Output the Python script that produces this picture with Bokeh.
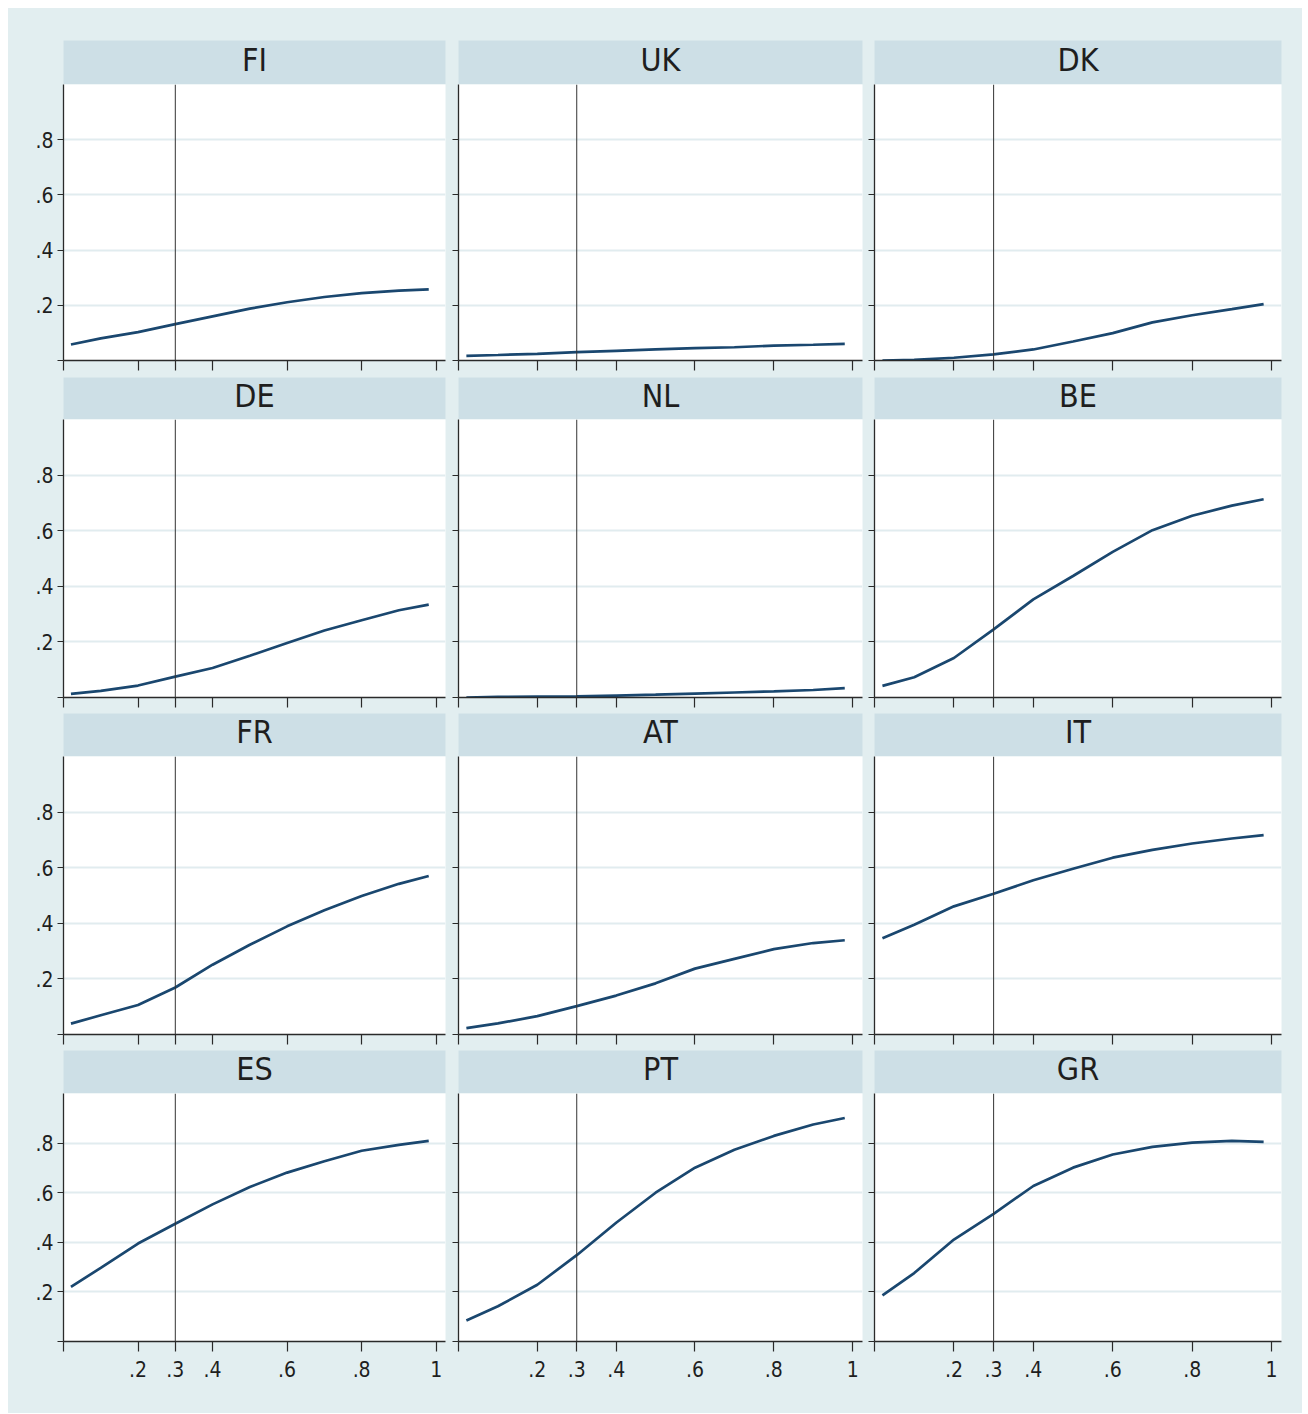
from bokeh.plotting import figure
from bokeh.models import Span, FixedTicker, CustomJSTickFormatter, Label, Range1d, Spacer
from bokeh.layouts import column, row
from bokeh.embed import file_html
from bokeh.resources import INLINE

# ---------------- data ----------------
countries = ["FI", "UK", "DK", "DE", "NL", "BE", "FR", "AT", "IT", "ES", "PT", "GR"]
x_pts = [0.02, 0.1, 0.2, 0.3, 0.4, 0.5, 0.6, 0.7, 0.8, 0.9, 0.98]

FI = [0.058, 0.080, 0.103, 0.132, 0.160, 0.188, 0.211, 0.230, 0.244, 0.253, 0.258]
UK = [0.017, 0.020, 0.024, 0.030, 0.035, 0.040, 0.045, 0.048, 0.054, 0.057, 0.060]
DK = [0.000, 0.002, 0.010, 0.022, 0.040, 0.069, 0.099, 0.138, 0.164, 0.186, 0.204]
DE = [0.013, 0.024, 0.043, 0.075, 0.106, 0.150, 0.196, 0.241, 0.278, 0.314, 0.334]
NL = [0.000, 0.002, 0.003, 0.004, 0.007, 0.010, 0.014, 0.018, 0.022, 0.027, 0.034]
BE = [0.042, 0.073, 0.142, 0.245, 0.353, 0.437, 0.524, 0.602, 0.654, 0.690, 0.713]
FR = [0.039, 0.069, 0.106, 0.169, 0.251, 0.323, 0.389, 0.447, 0.498, 0.542, 0.570]
AT = [0.023, 0.040, 0.066, 0.102, 0.140, 0.184, 0.237, 0.272, 0.307, 0.329, 0.339]
IT = [0.346, 0.395, 0.461, 0.506, 0.555, 0.596, 0.636, 0.664, 0.687, 0.705, 0.717]
ES = [0.220, 0.297, 0.395, 0.475, 0.553, 0.623, 0.681, 0.727, 0.769, 0.793, 0.809]
PT = [0.085, 0.142, 0.229, 0.348, 0.479, 0.600, 0.701, 0.773, 0.829, 0.875, 0.901]
GR = [0.186, 0.276, 0.411, 0.515, 0.627, 0.701, 0.754, 0.785, 0.802, 0.809, 0.805]

series = {"FI": FI, "UK": UK, "DK": DK, "DE": DE, "NL": NL, "BE": BE,
          "FR": FR, "AT": AT, "IT": IT, "ES": ES, "PT": PT, "GR": GR}

y_ticks = [0, 0.2, 0.4, 0.6, 0.8]
y_grid = [0.2, 0.4, 0.6, 0.8]
x_ticks = [0, 0.2, 0.3, 0.4, 0.6, 0.8, 1.0]
cutoff = 0.3

# ---------------- style ----------------
BG = "#e2eef0"
STRIP = "#cddfe6"
LINE = "#1a476f"
AXIS = "#2a2a2a"
GRID = "#e1ecef"
FONT = "DejaVu Sans Condensed, Liberation Sans, sans-serif"

# column geometry: (fig width, left border, right border)
cols = [(443, 55, 6), (416, 7, 5), (435, 7, 21)]
# row geometry: (strip top border, strip height, frame height, bottom border)
rows_geo = [(32, 44, 276, 17), (0, 42, 278, 16), (0, 43, 278, 16), (0, 43, 248, 72)]

fmt_js = """
if (Math.abs(tick) < 1e-9) { return ""; }
if (Math.abs(tick - 1) < 1e-9) { return "1"; }
return "." + Math.round(tick * 10);
"""
empty_js = 'return "";'

layout_rows = []
for r in range(4):
    top_b, strip_h, frame_h, bot_b = rows_geo[r]
    strips = []
    panels = []
    for c in range(3):
        name = countries[r * 3 + c]
        w, lb, rb = cols[c]
        # header strip
        s = figure(width=w, height=top_b + strip_h, x_range=Range1d(0, 1), y_range=Range1d(0, 1),
                   x_axis_type=None, y_axis_type=None, toolbar_location=None,
                   output_backend="svg", title=None)
        s.min_border_left = lb
        s.min_border_right = rb
        s.min_border_top = top_b
        s.min_border_bottom = 0
        s.background_fill_color = STRIP
        s.border_fill_color = BG
        s.outline_line_color = None
        s.grid.visible = False
        s.add_layout(Label(x=0.5, y=0.56, text=name, text_align="center", text_baseline="middle",
                           text_font=FONT, text_font_size="32px", text_color="#1e1e1e"))
        strips.append(s)

        # panel
        p = figure(width=w, height=frame_h + bot_b, x_range=Range1d(0, 1.025), y_range=Range1d(0, 1.0),
                   toolbar_location=None, output_backend="svg", title=None)
        p.min_border_left = lb
        p.min_border_right = rb
        p.min_border_top = 0
        p.min_border_bottom = bot_b
        p.background_fill_color = "white"
        p.border_fill_color = BG
        p.outline_line_color = None

        p.xgrid.visible = False
        p.ygrid.ticker = FixedTicker(ticks=y_grid)
        p.ygrid.grid_line_color = GRID
        p.ygrid.grid_line_width = 2

        xa = p.xaxis[0]
        xa.ticker = FixedTicker(ticks=x_ticks)
        xa.minor_tick_line_color = None
        xa.axis_line_color = AXIS
        xa.major_tick_line_color = AXIS
        xa.axis_line_width = 1.3
        xa.major_tick_line_width = 1.2
        xa.major_tick_out = 10
        xa.major_tick_in = 0
        if r == 3:
            xa.formatter = CustomJSTickFormatter(code=fmt_js)
            xa.major_label_text_font = FONT
            xa.major_label_text_font_size = "21px"
            xa.major_label_text_color = "#1e1e1e"
            xa.major_label_standoff = 9
        else:
            xa.formatter = CustomJSTickFormatter(code=empty_js)
            xa.major_label_text_font_size = "0px"
            xa.major_label_standoff = 0

        ya = p.yaxis[0]
        ya.ticker = FixedTicker(ticks=y_ticks)
        ya.minor_tick_line_color = None
        ya.axis_line_color = AXIS
        ya.major_tick_line_color = AXIS
        ya.axis_line_width = 1.3
        ya.major_tick_line_width = 1.2
        ya.major_tick_out = 6
        ya.major_tick_in = 0
        if c == 0:
            ya.formatter = CustomJSTickFormatter(code=fmt_js)
            ya.major_label_text_font = FONT
            ya.major_label_text_font_size = "21px"
            ya.major_label_text_color = "#1e1e1e"
            ya.major_label_standoff = 4
        else:
            ya.formatter = CustomJSTickFormatter(code=empty_js)
            ya.major_label_text_font_size = "0px"
            ya.major_label_standoff = 0

        p.add_layout(Span(location=cutoff, dimension="height", line_color="#333333", line_width=1))
        p.line(x_pts, series[name], line_color=LINE, line_width=2.7)
        panels.append(p)
    layout_rows.append(row(*strips, styles={"background-color": BG}))
    layout_rows.append(row(*panels, styles={"background-color": BG}))

grid = column(*layout_rows, styles={"background-color": BG})
root = column(Spacer(height=8), row(Spacer(width=8), grid))
open("out.html", "w").write(file_html(root, INLINE))
